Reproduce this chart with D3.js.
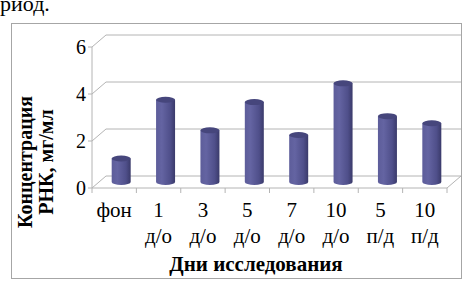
<!DOCTYPE html>
<html>
<head>
<meta charset="utf-8">
<script src="https://cdn.jsdelivr.net/npm/d3@7"></script>
<style>
  body { margin: 0; background: #fff; }
  svg { display: block; }
  text { font-family: "Liberation Serif", "Times New Roman", serif; }
</style>
</head>
<body>
<svg width="463" height="281"></svg>
<script>
const days = ["фон", "1", "3", "5", "7", "10", "5", "10"];
const phases = ["", "д/о", "д/о", "д/о", "д/о", "д/о", "п/д", "п/д"];
const values = [1.0, 3.5, 2.2, 3.4, 2.0, 4.2, 2.8, 2.5];
const yTicks = [0, 2, 4, 6];

const svg = d3.select("svg");

// 3d depth offset of the back wall
const dx = 14, dy = -12;

const x = d3.scaleBand()
    .domain(d3.range(days.length))
    .range([92, 447]);

const y = d3.scaleLinear()
    .domain([0, 6])
    .range([188, 47]);

// text from the page above the chart
svg.append("text")
    .attr("x", 0).attr("y", 11)
    .style("font-size", "22px")
    .text("риод.");

// outer frame
svg.append("rect")
    .attr("x", 11.5).attr("y", 23.5)
    .attr("width", 450).attr("height", 255)
    .attr("fill", "none")
    .attr("stroke", "#a6a6a6");

const grid = svg.append("g").attr("stroke", "#b4b4b4").attr("fill", "none");

// back wall gridlines + side wall diagonals
yTicks.forEach(v => {
    grid.append("line")
        .attr("x1", x.range()[0] + dx).attr("x2", 461)
        .attr("y1", y(v) + dy).attr("y2", y(v) + dy);
    grid.append("line")
        .attr("x1", x.range()[0]).attr("x2", x.range()[0] + dx)
        .attr("y1", y(v)).attr("y2", y(v) + dy);
});

// floor
grid.append("line")
    .attr("x1", x.range()[0]).attr("x2", x.range()[1])
    .attr("y1", y(0)).attr("y2", y(0));
grid.append("line")
    .attr("x1", x.range()[1]).attr("x2", x.range()[1] + dx)
    .attr("y1", y(0)).attr("y2", y(0) + dy);

// vertical axis
grid.append("line")
    .attr("x1", x.range()[0]).attr("x2", x.range()[0])
    .attr("y1", y(6)).attr("y2", y(0));

yTicks.forEach(v => {
    grid.append("line")
        .attr("x1", x.range()[0] - 4).attr("x2", x.range()[0])
        .attr("y1", y(v)).attr("y2", y(v));
});

// category ticks
d3.range(days.length + 1).forEach(i => {
    const xx = x.range()[0] + i * x.step();
    grid.append("line")
        .attr("x1", xx).attr("x2", xx)
        .attr("y1", y(0)).attr("y2", y(0) + 5);
});

// y tick labels
svg.append("g").selectAll("text")
    .data(yTicks)
    .join("text")
    .attr("x", 86)
    .attr("y", d => y(d))
    .attr("dy", "0.35em")
    .attr("text-anchor", "end")
    .style("font-size", "20px")
    .text(d => d);

// cylinder gradient
const defs = svg.append("defs");
const grad = defs.append("linearGradient").attr("id", "cyl");
grad.append("stop").attr("offset", "0%").attr("stop-color", "#5d5d9a");
grad.append("stop").attr("offset", "30%").attr("stop-color", "#6464a2");
grad.append("stop").attr("offset", "75%").attr("stop-color", "#4f4f8a");
grad.append("stop").attr("offset", "100%").attr("stop-color", "#3a3a6a");

const rx = 9.5, ry = 3;
const bars = svg.append("g").selectAll("g")
    .data(values)
    .join("g");

bars.append("path")
    .attr("fill", "url(#cyl)")
    .attr("d", (d, i) => {
        const cx = x(i) + x.bandwidth() / 2 + dx / 2;
        const top = y(d) + dy / 2, base = y(0) + dy / 2;
        return `M${cx - rx},${top} L${cx - rx},${base} A${rx},${ry} 0 0 0 ${cx + rx},${base} L${cx + rx},${top} Z`;
    });

bars.append("ellipse")
    .attr("cx", (d, i) => x(i) + x.bandwidth() / 2 + dx / 2)
    .attr("cy", d => y(d) + dy / 2)
    .attr("rx", rx).attr("ry", ry)
    .attr("fill", "#46467c");

// category labels
const labels = svg.append("g").style("font-size", "21px").attr("text-anchor", "middle");
labels.selectAll(".day")
    .data(days)
    .join("text")
    .attr("class", "day")
    .attr("x", (d, i) => x(i) + x.bandwidth() / 2)
    .attr("y", 217)
    .text(d => d);
labels.selectAll(".phase")
    .data(phases)
    .join("text")
    .attr("class", "phase")
    .attr("x", (d, i) => x(i) + x.bandwidth() / 2)
    .attr("y", 243)
    .text(d => d);

// axis titles
svg.append("text")
    .attr("x", 256).attr("y", 271)
    .attr("text-anchor", "middle")
    .style("font-size", "21px")
    .style("font-weight", "bold")
    .text("Дни исследования");

const yTitle = svg.append("text")
    .attr("transform", "translate(0,162) rotate(-90)")
    .attr("text-anchor", "middle")
    .style("font-size", "20px")
    .style("font-weight", "bold");
yTitle.append("tspan").attr("x", 0).attr("y", 32).text("Концентрация");
yTitle.append("tspan").attr("x", 0).attr("y", 53).text("РНК, мг/мл");
</script>
</body>
</html>
